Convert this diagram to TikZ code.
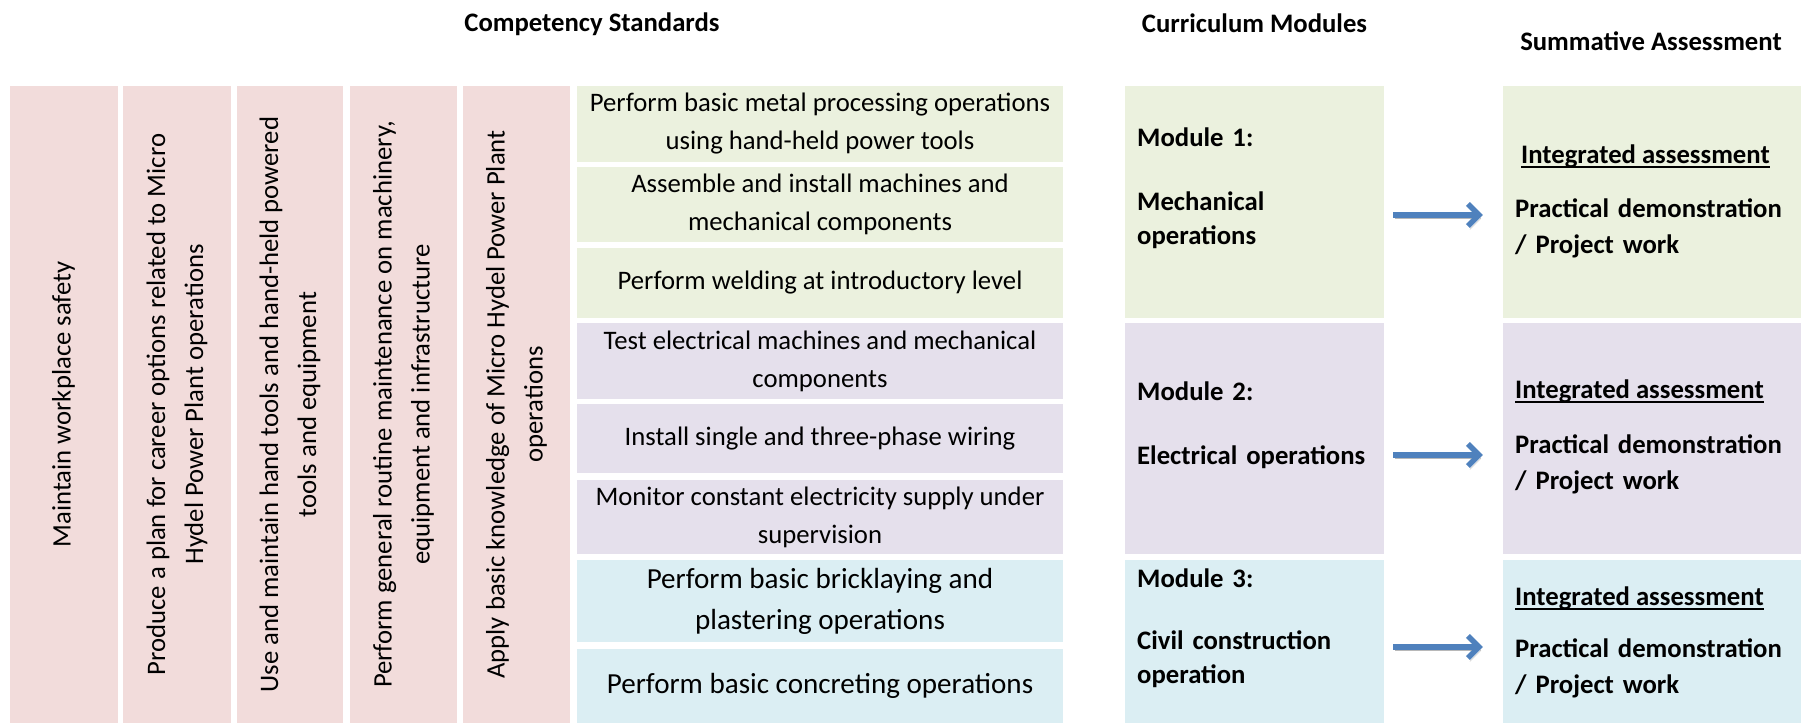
\documentclass[tikz,border=0pt]{standalone}
\usepackage{fontspec}
\setmainfont{Carlito}
\usetikzlibrary{arrows.meta}
\definecolor{stdPink}{HTML}{F2DCDB}
\definecolor{mechGreen}{HTML}{EBF1DE}
\definecolor{elecPurple}{HTML}{E5E0EC}
\definecolor{civilBlue}{HTML}{DBEEF3}
\definecolor{arrowBlue}{HTML}{4F81BD}
\newcommand{\stdColumn}[4]{%%
  %% A rotated competency standard.
  \node[columnStyle,minimum height=#3] (#1) at (#2,\ymid) {#4};
}
\newcommand{\unitCell}[6][]{%%
  \node[cellStyle,fill=#3,minimum height=#5,#1] (#2) at (\xunit,#4) {#6};
}
\newcommand{\moduleRow}[4]{%%
  %% The module box and its assessment box.
  \node[boxStyle,fill=#2,minimum width=259,minimum height=#4] (#1) at (\xmod,#3) {};
  \node[boxStyle,fill=#2,minimum width=298,minimum height=#4] (#1a) at (\xass,#3) {};
}
\newcommand{\assessText}[4]{%%
  \node[boldText] (#1i) at (#2,#3) {Integrated assessment};
  \draw[line width=1.6pt] ([yshift=-4pt]#1i.base west) -- ([yshift=-4pt]#1i.base east);
  \node[boldText,text width=280pt,align=left] (#1p) at (1515,#4) {Practical demonstration\\/ Project work};
}
\newcommand{\flowArrow}[3]{%%
  \coordinate (#1y) at (0,#3);
  \draw[arrowStyle] (#1.east |- #1y) -- (#2.west |- #1y);
}

\begin{document}
\begin{tikzpicture}[%%
  x=1pt,y=-1pt,%%
  columnStyle/.style={rotate=90,fill=stdPink,inner sep=0pt,minimum width=637,align=center,%%
    font=\fontsize{26.7}{38}\selectfont},%%
  cellStyle/.style={inner sep=0pt,minimum width=486,align=center,%%
    font=\fontsize{26.7}{38}\selectfont},%%
  bigCell/.style={font=\fontsize{29.1}{41}\selectfont},%%
  boxStyle/.style={inner sep=0pt},%%
  headStyle/.style={anchor=base,inner sep=0pt,font=\bfseries\fontsize{26.7}{32}\selectfont},%%
  boldText/.style={anchor=base west,inner sep=0pt,font=\bfseries\fontsize{26.7}{36}\selectfont},%%
  modText/.style={boldText,text width=240pt,align=left,font=\bfseries\fontsize{26.7}{34}\selectfont},%%
  arrowStyle/.style={line width=5.5pt,draw=arrowBlue,%%
    -{Straight Barb[length=11pt,width=22pt,line width=5.5pt]},%%
    shorten <=9pt,shorten >=20pt,%%
    preaction={draw=black!28,transform canvas={shift={(2pt,-3.5pt)}}}}
]
\useasboundingbox (0,0) rectangle (1801,723);
%%
\pgfmathsetmacro{\ymid}{404.5}
\pgfmathsetmacro{\xunit}{820}
\pgfmathsetmacro{\xmod}{1254.5}
\pgfmathsetmacro{\xass}{1652}
%%
%% Column headings.
\node[headStyle] (hStd) at (592,31) {Competency Standards};
\node[headStyle] (hMod) at (1254.5,32) {Curriculum Modules};
\node[headStyle] (hAss) at (1651,50) {Summative Assessment};
%%
%% Generic competency standards.
\stdColumn{gen1}{63.5}{108}{Maintain workplace safety}
\stdColumn{gen2}{177}{108}{Produce a plan for career options related to Micro\\Hydel Power Plant operations}
\stdColumn{gen3}{290}{106}{Use and maintain hand tools and hand-held powered\\tools and equipment}
\stdColumn{gen4}{403.5}{107}{Perform general routine maintenance on machinery,\\equipment and infrastructure}
\stdColumn{gen5}{516.5}{107}{Apply basic knowledge of Micro Hydel Power Plant\\operations}
%%
%% Technical competency standards.
\unitCell{u1}{mechGreen}{124}{76}{Perform basic metal processing operations\\using hand-held power tools}
\unitCell{u2}{mechGreen}{204.5}{75}{Assemble and install machines and\\mechanical components}
\unitCell{u3}{mechGreen}{283}{70}{Perform welding at introductory level}
\unitCell{u4}{elecPurple}{361}{76}{Test electrical machines and mechanical\\components}
\unitCell{u5}{elecPurple}{438.5}{69}{Install single and three-phase wiring}
\unitCell{u6}{elecPurple}{517}{74}{Monitor constant electricity supply under\\supervision}
\unitCell[bigCell]{u7}{civilBlue}{601}{82}{Perform basic bricklaying and\\plastering operations}
\unitCell[bigCell]{u8}{civilBlue}{686}{74}{Perform basic concreting operations}
%%
%% Modules and their assessment.
\moduleRow{m1}{mechGreen}{202}{232}
\moduleRow{m2}{elecPurple}{438.5}{231}
\moduleRow{m3}{civilBlue}{641.5}{163}
\node[modText] (m1t) at (1137,146) {Module 1:\\[30pt]Mechanical\\operations};
\node[modText] (m2t) at (1137,400) {Module 2:\\[30pt]Electrical operations};
\node[modText] (m3t) at (1137,587) {Module 3:\\[28pt]Civil construction\\operation};
\assessText{a1}{1521}{163}{217}
\assessText{a2}{1515}{398}{453}
\assessText{a3}{1515}{605}{657}
%%
%% Arrows from modules to assessment.
\flowArrow{m1}{m1a}{215}
\flowArrow{m2}{m2a}{455}
\flowArrow{m3}{m3a}{647}
\end{tikzpicture}
\end{document}
